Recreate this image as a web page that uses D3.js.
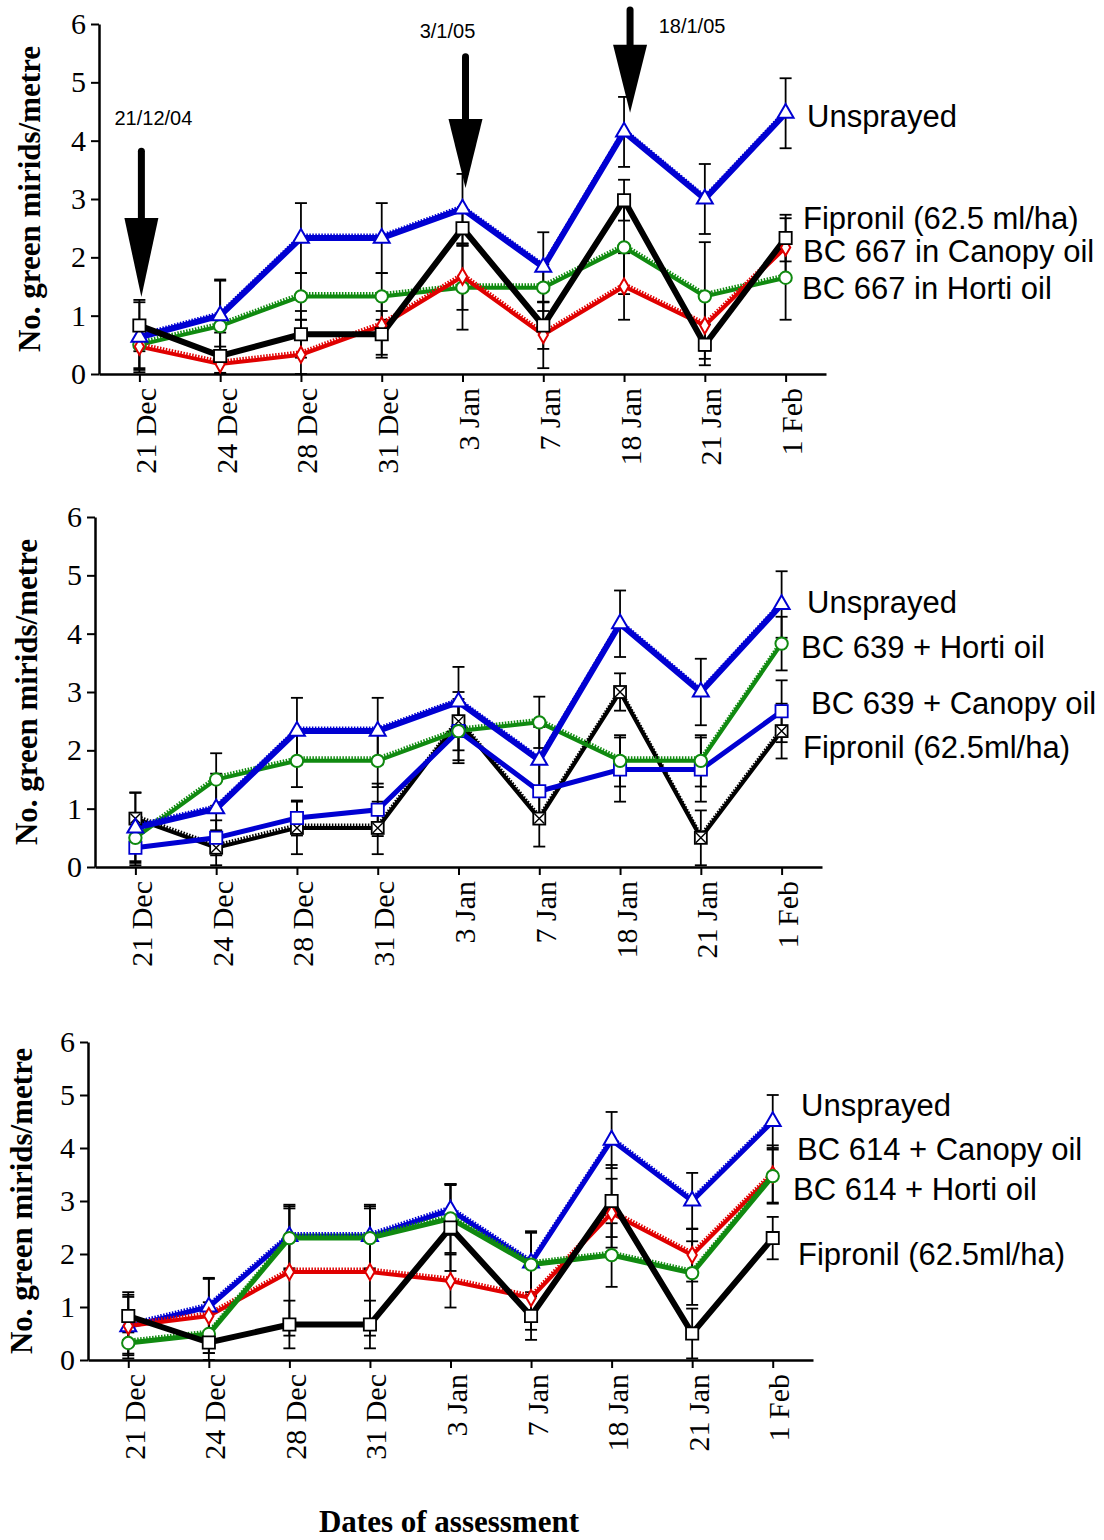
<!DOCTYPE html>
<html>
<head>
<meta charset="utf-8">
<script src="https://cdn.jsdelivr.net/npm/d3@7"></script>
<style>
  body { margin: 0; background: #fff; }
  svg { display: block; }
</style>
</head>
<body>
<div id="viz"></div>
<script>
// dates of assessment (x categories) and y ticks
const dates = ["21 Dec", "24 Dec", "28 Dec", "31 Dec", "3 Jan", "7 Jan", "18 Jan", "21 Jan", "1 Feb"];
const yTicks = [0, 1, 2, 3, 4, 5, 6];

// panel 1 - BC 667
const p1Unsprayed = [0.63, 1.0, 2.33, 2.33, 2.83, 1.83, 4.15, 3.0, 4.47];
const p1UnsprayedErr = [0.6, 0.6, 0.6, 0.6, 0.6, 0.6, 0.6, 0.6, 0.6];
const p1Fipronil = [0.83, 0.31, 0.68, 0.68, 2.5, 0.83, 2.98, 0.5, 2.33];
const p1FipronilErr = [0.44, 0.4, 0.4, 0.4, 0.3, 0.4, 0.35, 0.35, 0.4];
const p1Canopy = [0.47, 0.17, 0.33, 0.83, 1.67, 0.67, 1.5, 0.83, 2.17];
const p1CanopyErr = [0.4, 0.3, 0.6, 0.5, 0.57, 0.57, 0.57, 0.57, 0.5];
const p1Horti = [0.5, 0.82, 1.33, 1.33, 1.48, 1.48, 2.17, 1.33, 1.65];
const p1HortiErr = [0.4, 0.8, 0.4, 0.4, 0.72, 0.4, 0.8, 0.93, 0.72];

// panel 2 - BC 639
const p2Unsprayed = [0.67, 1.0, 2.33, 2.33, 2.83, 1.83, 4.17, 3.0, 4.5];
const p2UnsprayedErr = [0.6, 0.6, 0.57, 0.57, 0.6, 0.57, 0.57, 0.57, 0.57];
const p2Horti = [0.5, 1.5, 1.82, 1.82, 2.33, 2.48, 1.82, 1.82, 3.83];
const p2HortiErr = [0.4, 0.45, 0.45, 0.45, 0.5, 0.44, 0.44, 0.44, 0.46];
const p2Canopy = [0.33, 0.5, 0.84, 0.98, 2.33, 1.3, 1.67, 1.67, 2.67];
const p2CanopyErr = [0.3, 0.3, 0.3, 0.45, 0.55, 0.5, 0.55, 0.55, 0.53];
const p2Fipronil = [0.83, 0.33, 0.67, 0.67, 2.5, 0.83, 3.0, 0.5, 2.33];
const p2FipronilErr = [0.45, 0.3, 0.45, 0.45, 0.5, 0.48, 0.32, 0.47, 0.47];

// panel 3 - BC 614
const p3Unsprayed = [0.63, 1.0, 2.33, 2.33, 2.83, 1.83, 4.15, 3.0, 4.5];
const p3UnsprayedErr = [0.6, 0.55, 0.6, 0.6, 0.47, 0.6, 0.53, 0.53, 0.5];
const p3Canopy = [0.64, 0.83, 1.66, 1.66, 1.49, 1.17, 2.77, 1.98, 3.5];
const p3CanopyErr = [0.55, 0.7, 1.2, 1.2, 0.5, 0.6, 0.65, 0.5, 0.55];
const p3Horti = [0.32, 0.49, 2.3, 2.3, 2.67, 1.8, 1.98, 1.64, 3.47];
const p3HortiErr = [0.2, 0.6, 0.6, 0.6, 0.65, 0.6, 0.6, 0.6, 0.5];
const p3Fipronil = [0.83, 0.33, 0.67, 0.67, 2.5, 0.83, 3.0, 0.5, 2.3];
const p3FipronilErr = [0.45, 0.2, 0.45, 0.45, 0.82, 0.45, 0.68, 0.47, 0.4];

// spray dates marked on the top panel
const sprayDates = ["21 Dec", "3 Jan", "18 Jan"];
const sprayLabels = ["21/12/04", "3/1/05", "18/1/05"];
const sprayTip = [1.32, 3.19, 4.48];
const sprayTop = [3.82, 5.44, 6.24];
const sprayLabelY = [4.27, 5.76, 5.85];

document.addEventListener("DOMContentLoaded", () => {
  const W = 1104, H = 1540;
  const blue = "#0000d2", green = "#108a10", red = "#e00000", black = "#000";
  const serif = "'Liberation Serif', 'Times New Roman', serif";
  const sans = "'Liberation Sans', Arial, sans-serif";

  const svg = d3.select("#viz")
    .append("svg")
      .attr("width", W)
      .attr("height", H)
      .attr("viewBox", `0 0 ${W} ${H}`);

  svg.append("rect").attr("width", W).attr("height", H).attr("fill", "#fff");

  const panels = [
    {
      left: 99, right: 826, top: 24, bottom: 374, labelX: 30,
      series: [
        { values: p1Horti, err: p1HortiErr, color: green, width: 4, hatch: true, symbol: "circle" },
        { values: p1Canopy, err: p1CanopyErr, color: red, width: 4, hatch: true, symbol: "diamond" },
        { values: p1Unsprayed, err: p1UnsprayedErr, color: blue, width: 6, hatch: true, symbol: "triangle" },
        { values: p1Fipronil, err: p1FipronilErr, color: black, width: 6, hatch: false, symbol: "square" }
      ],
      labels: [
        { text: "Unsprayed", x: 807, y: 127 },
        { text: "Fipronil (62.5 ml/ha)", x: 803, y: 229 },
        { text: "BC 667 in Canopy oil", x: 803, y: 262 },
        { text: "BC 667 in Horti oil", x: 802, y: 299 }
      ],
      arrows: true
    },
    {
      left: 95, right: 822, top: 517, bottom: 867, labelX: 27,
      series: [
        { values: p2Fipronil, err: p2FipronilErr, color: black, width: 4, hatch: true, symbol: "crossSquare" },
        { values: p2Canopy, err: p2CanopyErr, color: blue, width: 5, hatch: false, symbol: "square" },
        { values: p2Horti, err: p2HortiErr, color: green, width: 4, hatch: true, symbol: "circle" },
        { values: p2Unsprayed, err: p2UnsprayedErr, color: blue, width: 6, hatch: true, symbol: "triangle" }
      ],
      labels: [
        { text: "Unsprayed", x: 807, y: 613 },
        { text: "BC 639 + Horti oil", x: 801, y: 658 },
        { text: "BC 639 + Canopy oil", x: 811, y: 714 },
        { text: "Fipronil (62.5ml/ha)", x: 803, y: 758 }
      ],
      arrows: false
    },
    {
      left: 88, right: 813, top: 1042, bottom: 1360, labelX: 22,
      series: [
        { values: p3Unsprayed, err: p3UnsprayedErr, color: blue, width: 5, hatch: true, symbol: "triangle" },
        { values: p3Canopy, err: p3CanopyErr, color: red, width: 4, hatch: true, symbol: "diamond" },
        { values: p3Horti, err: p3HortiErr, color: green, width: 5, hatch: true, symbol: "circle" },
        { values: p3Fipronil, err: p3FipronilErr, color: black, width: 6, hatch: false, symbol: "square" }
      ],
      labels: [
        { text: "Unsprayed", x: 801, y: 1116 },
        { text: "BC 614 + Canopy oil", x: 797, y: 1160 },
        { text: "BC 614 + Horti oil", x: 793, y: 1200 },
        { text: "Fipronil (62.5ml/ha)", x: 798, y: 1265 }
      ],
      arrows: false
    }
  ];

  panels.forEach(p => drawPanel(p));

  svg.append("text")
    .attr("x", 449)
    .attr("y", 1532)
    .attr("text-anchor", "middle")
    .style("font-family", serif)
    .style("font-weight", "bold")
    .style("font-size", "31px")
    .text("Dates of assessment");

  function drawPanel(p) {
    const x = d3.scalePoint()
      .domain(dates)
      .range([p.left, p.right])
      .padding(0.5);

    const y = d3.scaleLinear()
      .domain([0, 6])
      .range([p.bottom, p.top]);

    const g = svg.append("g");

    // axes
    const xAxis = g.append("g")
      .attr("transform", `translate(0,${p.bottom})`)
      .call(d3.axisBottom(x).tickSize(8).tickSizeOuter(0));
    xAxis.selectAll("text")
      .attr("transform", "rotate(-90)")
      .attr("x", -14)
      .attr("y", 16)
      .attr("dy", 0)
      .style("text-anchor", "end");

    const yAxis = g.append("g")
      .attr("transform", `translate(${p.left},0)`)
      .call(d3.axisLeft(y).tickValues(yTicks).tickFormat(d3.format("d"))
        .tickSize(8).tickPadding(5).tickSizeOuter(0));

    [xAxis, yAxis].forEach(a => {
      a.select(".domain").attr("stroke", "#000").attr("stroke-width", 2.5);
      a.selectAll(".tick line").attr("stroke", "#000").attr("stroke-width", 2);
      a.selectAll("text")
        .attr("fill", "#000")
        .style("font-family", serif)
        .style("font-size", "30px");
    });

    g.append("text")
      .attr("transform", `translate(${p.labelX + 10},${(p.top + p.bottom) / 2}) rotate(-90)`)
      .attr("text-anchor", "middle")
      .style("font-family", serif)
      .style("font-weight", "bold")
      .style("font-size", "31px")
      .text("No. green mirids/metre");

    // error bars
    p.series.forEach(s => {
      const eb = g.append("g").attr("stroke", "#000").attr("stroke-width", 1.8);
      s.values.forEach((v, i) => {
        const cx = x(dates[i]);
        const hi = y(v + s.err[i]);
        const lo = y(Math.max(0, v - s.err[i]));
        eb.append("line").attr("x1", cx).attr("x2", cx).attr("y1", hi).attr("y2", lo);
        eb.append("line").attr("x1", cx - 6).attr("x2", cx + 6).attr("y1", hi).attr("y2", hi);
        eb.append("line").attr("x1", cx - 6).attr("x2", cx + 6).attr("y1", lo).attr("y2", lo);
      });
    });

    // lines
    const line = d3.line()
      .x((d, i) => x(dates[i]))
      .y(d => y(d));

    p.series.forEach(s => {
      g.append("path")
        .datum(s.values)
        .attr("fill", "none")
        .attr("stroke", s.color)
        .attr("stroke-width", s.width)
        .attr("stroke-linejoin", "miter")
        .attr("d", line);
      if (s.hatch) {
        g.append("path")
          .datum(s.values)
          .attr("transform", "translate(0,-3)")
          .attr("fill", "none")
          .attr("stroke", s.color)
          .attr("stroke-width", 3)
          .attr("stroke-dasharray", "1.5,1.5")
          .attr("d", line);
      }
    });

    // markers
    p.series.forEach(s => {
      s.values.forEach((v, i) => {
        const cx = x(dates[i]), cy = y(v);
        const m = g.append("g").attr("transform", `translate(${cx},${cy})`);
        if (s.symbol === "crossSquare") {
          m.append("rect").attr("x", -6).attr("y", -6).attr("width", 12).attr("height", 12)
            .attr("fill", "#fff").attr("stroke", "#000").attr("stroke-width", 1.8);
          m.append("path").attr("d", "M-5,-5L5,5M5,-5L-5,5")
            .attr("stroke", "#000").attr("stroke-width", 1.4);
        } else {
          const types = {
            square: [d3.symbolSquare, 150],
            circle: [d3.symbolCircle, 120],
            triangle: [d3.symbolTriangle, 110],
            diamond: [d3.symbolDiamond, 75]
          };
          const t = types[s.symbol];
          m.append("path")
            .attr("d", d3.symbol().type(t[0]).size(t[1])())
            .attr("fill", "#fff")
            .attr("stroke", s.color)
            .attr("stroke-width", s.symbol === "square" ? 1.8 : 2);
        }
      });
    });

    // series labels
    p.labels.forEach(l => {
      g.append("text")
        .attr("x", l.x)
        .attr("y", l.y)
        .style("font-family", sans)
        .style("font-size", "31px")
        .text(l.text);
    });

    if (p.arrows) {
      const offsets = [2, 3, 6];
      const headLen = [79, 69, 68];
      const labelShift = [12, -18, 62];
      sprayDates.forEach((d, i) => {
        const ax = x(d) + offsets[i];
        const tip = y(sprayTip[i]);
        const headTop = tip - headLen[i];
        g.append("line")
          .attr("x1", ax).attr("x2", ax)
          .attr("y1", y(sprayTop[i])).attr("y2", headTop + 2)
          .attr("stroke", "#000").attr("stroke-width", 7)
          .attr("stroke-linecap", "round");
        g.append("path")
          .attr("d", `M${ax - 17},${headTop}L${ax + 17},${headTop}L${ax},${tip}Z`)
          .attr("fill", "#000");
        g.append("text")
          .attr("x", ax + labelShift[i])
          .attr("y", y(sprayLabelY[i]))
          .attr("text-anchor", "middle")
          .style("font-family", sans)
          .style("font-size", "20px")
          .text(sprayLabels[i]);
      });
    }
  }
});
</script>
</body>
</html>
